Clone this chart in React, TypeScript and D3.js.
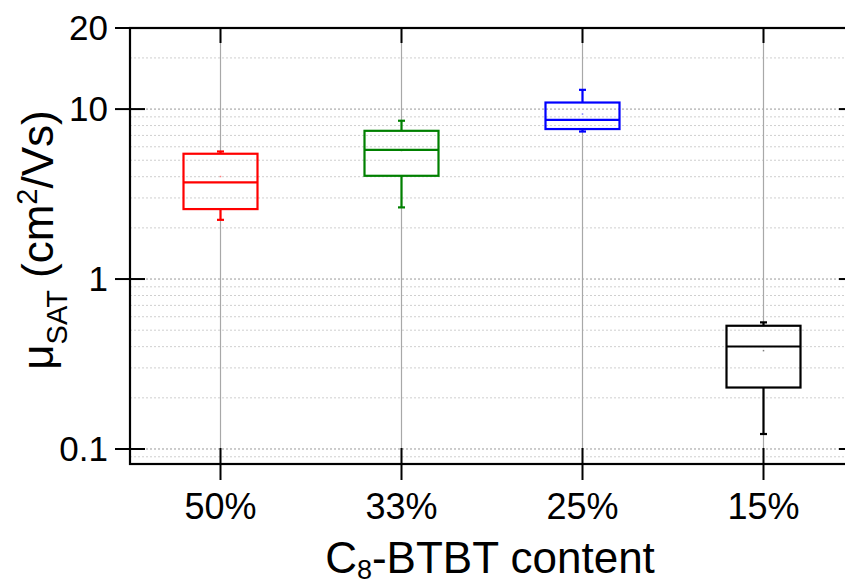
import React from "react";
import * as d3 from "d3";

// box statistics (cm2/Vs)
const categories = ["50%", "33%", "25%", "15%"];
const colors = ["#ff0000", "#008000", "#0000ff", "#000000"];
const whiskerLow = [2.23, 2.64, 7.38, 0.1225];
const q1 = [2.58, 4.05, 7.63, 0.23];
const median = [3.7, 5.76, 8.65, 0.401];
const q3 = [5.46, 7.45, 10.93, 0.531];
const whiskerHigh = [5.63, 8.54, 12.98, 0.556];
const means = [4.01, 5.7, 9.35, 0.379];

const yTicks = [0.1, 1, 10, 30];
const yTickLabels = ["0.1", "1", "10", "20"];
const yDomain = [0.0816, 30];

const W = 845;
const H = 587;
const left = 130;
const top = 28;
const right = 854;
const bottom = 464;
const font = "'Liberation Sans', Arial, sans-serif";

const App = () => {
  const x = d3.scaleBand().domain(categories).range([left, right]);
  const y = d3.scaleLog().domain(yDomain).range([bottom, top]);
  const cx = (c: string) => (x(c) as number) + x.bandwidth() / 2;
  const boxW = 74;
  const capW = 7;

  // minor grid values (2..9 per decade) inside the domain
  const minor: number[] = [];
  [0.01, 0.1, 1, 10].forEach((d) => {
    for (let k = 2; k <= 9; k++) {
      const v = k * d;
      if (v > yDomain[0] && v < yDomain[1]) minor.push(v);
    }
  });

  return (
    <svg
      width={W}
      height={H}
      style={{ position: "absolute", left: 0, top: 0, background: "#fff" }}
      fontFamily={font}
    >
      {/* horizontal grid */}
      {minor.map((v, i) => (
        <line key={"mn" + i} x1={left} x2={right} y1={y(v)} y2={y(v)}
          stroke="#cfcfcf" strokeWidth={1} strokeDasharray="2,2" />
      ))}
      {yTicks.slice(0, 3).map((v, i) => (
        <line key={"mj" + i} x1={left} x2={right} y1={y(v)} y2={y(v)}
          stroke="#9a9a9a" strokeWidth={1} strokeDasharray="2,2" />
      ))}

      {/* vertical grey lines outside the boxes */}
      {categories.map((c, i) => (
        <g key={"vg" + i} stroke="#a8a8a8" strokeWidth={1.2}>
          <line x1={cx(c)} x2={cx(c)} y1={top} y2={y(q3[i])} />
          <line x1={cx(c)} x2={cx(c)} y1={y(q1[i])} y2={bottom} />
        </g>
      ))}

      {/* boxes */}
      {categories.map((c, i) => {
        const m = cx(c);
        const col = colors[i];
        return (
          <g key={"b" + i} stroke={col} strokeWidth={2.2} fill="none">
            <line x1={m} x2={m} y1={y(q3[i])} y2={y(whiskerHigh[i])} />
            <line x1={m} x2={m} y1={y(q1[i])} y2={y(whiskerLow[i])} />
            <line x1={m - capW / 2} x2={m + capW / 2} y1={y(whiskerHigh[i])} y2={y(whiskerHigh[i])} />
            <line x1={m - capW / 2} x2={m + capW / 2} y1={y(whiskerLow[i])} y2={y(whiskerLow[i])} />
            <rect x={m - boxW / 2} y={y(q3[i])} width={boxW} height={y(q1[i]) - y(q3[i])} />
            <line x1={m - boxW / 2} x2={m + boxW / 2} y1={y(median[i])} y2={y(median[i])} />
            <rect x={m - 0.75} y={y(means[i]) - 0.75} width={1.5} height={1.5}
              fill={col} stroke="none" opacity={0.5} />
          </g>
        );
      })}

      {/* frame */}
      <rect x={left} y={top} width={right - left} height={bottom - top}
        fill="none" stroke="#000" strokeWidth={2.2} />

      {/* y ticks, left crossing, right inward */}
      {yTicks.map((v, i) => (
        <g key={"yt" + i} stroke="#000" strokeWidth={2}>
          <line x1={left - 15} x2={left + 15} y1={y(v)} y2={y(v)} />
          <line x1={right - 15} x2={right + 15} y1={y(v)} y2={y(v)} />
        </g>
      ))}
      {yTicks.map((v, i) => (
        <text key={"yl" + i} x={108} y={y(v) + 12} textAnchor="end"
          fontSize={35} fill="#000">{yTickLabels[i]}</text>
      ))}

      {/* x ticks */}
      {categories.map((c, i) => (
        <g key={"xt" + i} stroke="#000" strokeWidth={2}>
          <line x1={cx(c)} x2={cx(c)} y1={bottom - 16} y2={bottom + 16} />
          <line x1={cx(c)} x2={cx(c)} y1={top} y2={top + 15} />
        </g>
      ))}
      {categories.map((c, i) => (
        <text key={"xl" + i} x={cx(c)} y={519} textAnchor="middle"
          fontSize={36} fill="#000">{c}</text>
      ))}

      {/* axis titles */}
      <text x={490} y={573} textAnchor="middle" fontSize={44} fill="#000">
        C<tspan fontSize={27} dy={6}>8</tspan>
        <tspan dy={-6}>-BTBT content</tspan>
      </text>
      <text transform="translate(53,240) rotate(-90)" textAnchor="middle"
        fontSize={44} fill="#000">
        μ<tspan fontSize={29} dy={14}>SAT</tspan>
        <tspan dy={-14}> (cm</tspan>
        <tspan fontSize={29} dy={-16}>2</tspan>
        <tspan dy={16}>/Vs)</tspan>
      </text>
    </svg>
  );
};

export default App;
